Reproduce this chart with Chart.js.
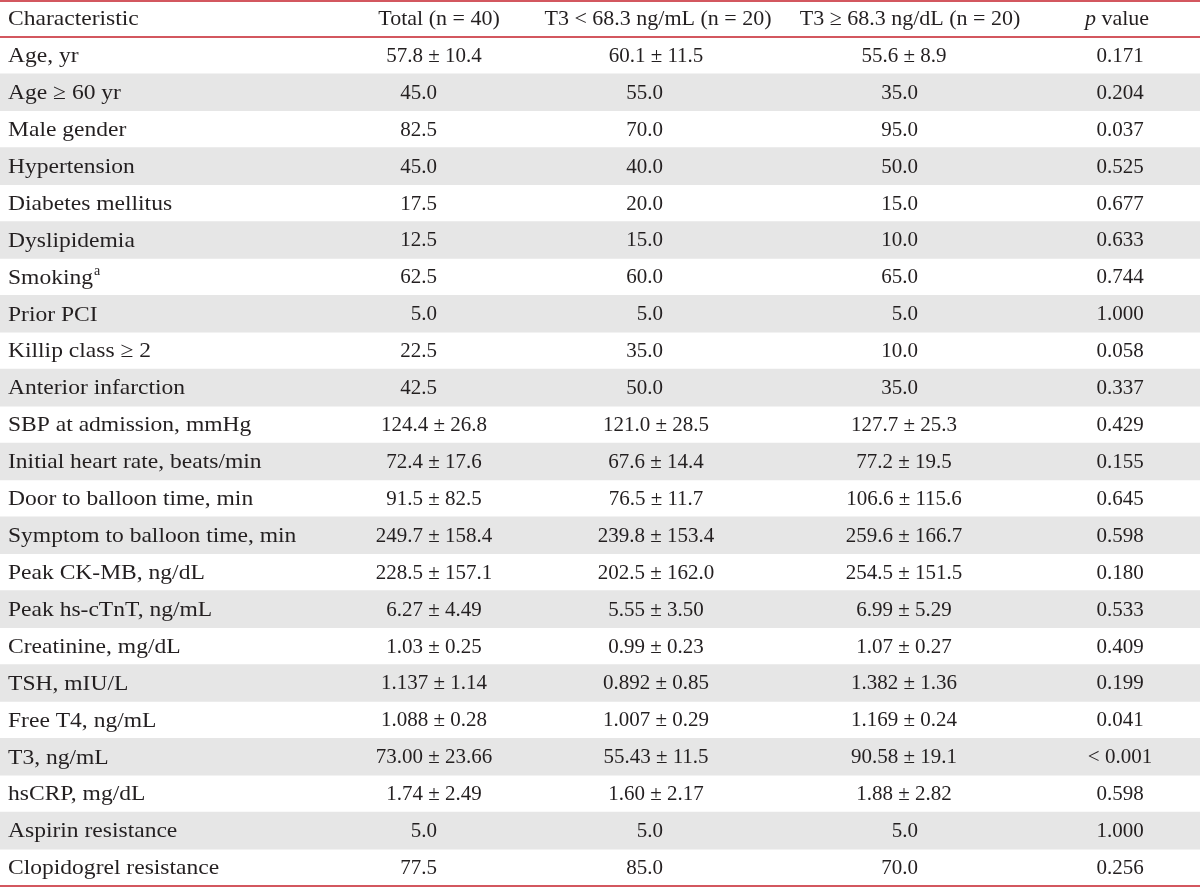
<!DOCTYPE html>
<html>
<head>
<meta charset="utf-8">
<script src="https://cdn.jsdelivr.net/npm/chart.js@4/dist/chart.umd.min.js"></script>
<style>
  html, body { margin: 0; padding: 0; background: #fff; }
  #wrap { width: 1200px; height: 888px; }
</style>
</head>
<body>
<div id="wrap"><canvas id="tbl" width="1200" height="888"></canvas></div>
<script>
// table contents
const headers = ['Characteristic', 'Total (n = 40)', 'T3 < 68.3 ng/mL (n = 20)', 'T3 \u2265 68.3 ng/dL (n = 20)', 'value'];

const characteristics = [
    'Age, yr', 'Age \u2265 60 yr', 'Male gender', 'Hypertension', 'Diabetes mellitus',
    'Dyslipidemia', 'Smoking', 'Prior PCI', 'Killip class \u2265 2', 'Anterior infarction',
    'SBP at admission, mmHg', 'Initial heart rate, beats/min', 'Door to balloon time, min',
    'Symptom to balloon time, min', 'Peak CK-MB, ng/dL', 'Peak hs-cTnT, ng/mL',
    'Creatinine, mg/dL', 'TSH, mIU/L', 'Free T4, ng/mL', 'T3, ng/mL', 'hsCRP, mg/dL',
    'Aspirin resistance', 'Clopidogrel resistance'
];

const totalVals = [
    '57.8 \u00b1 10.4', '45.0', '82.5', '45.0', '17.5', '12.5', '62.5', '5.0', '22.5', '42.5',
    '124.4 \u00b1 26.8', '72.4 \u00b1 17.6', '91.5 \u00b1 82.5', '249.7 \u00b1 158.4',
    '228.5 \u00b1 157.1', '6.27 \u00b1 4.49', '1.03 \u00b1 0.25', '1.137 \u00b1 1.14',
    '1.088 \u00b1 0.28', '73.00 \u00b1 23.66', '1.74 \u00b1 2.49', '5.0', '77.5'
];

const lowT3Vals = [
    '60.1 \u00b1 11.5', '55.0', '70.0', '40.0', '20.0', '15.0', '60.0', '5.0', '35.0', '50.0',
    '121.0 \u00b1 28.5', '67.6 \u00b1 14.4', '76.5 \u00b1 11.7', '239.8 \u00b1 153.4',
    '202.5 \u00b1 162.0', '5.55 \u00b1 3.50', '0.99 \u00b1 0.23', '0.892 \u00b1 0.85',
    '1.007 \u00b1 0.29', '55.43 \u00b1 11.5', '1.60 \u00b1 2.17', '5.0', '85.0'
];

const highT3Vals = [
    '55.6 \u00b1 8.9', '35.0', '95.0', '50.0', '15.0', '10.0', '65.0', '5.0', '10.0', '35.0',
    '127.7 \u00b1 25.3', '77.2 \u00b1 19.5', '106.6 \u00b1 115.6', '259.6 \u00b1 166.7',
    '254.5 \u00b1 151.5', '6.99 \u00b1 5.29', '1.07 \u00b1 0.27', '1.382 \u00b1 1.36',
    '1.169 \u00b1 0.24', '90.58 \u00b1 19.1', '1.88 \u00b1 2.82', '5.0', '70.0'
];

const pVals = [
    '0.171', '0.204', '0.037', '0.525', '0.677', '0.633', '0.744', '1.000', '0.058', '0.337',
    '0.429', '0.155', '0.645', '0.598', '0.180', '0.533', '0.409', '0.199', '0.041',
    '< 0.001', '0.598', '1.000', '0.256'
];

const footnoteRow = 6; // Smoking has superscript a

// layout (x positions in scale units == pixels)
const headCenter = [8, 439, 658, 910, 1117];
const colCenter = [8, 434, 656, 904, 1120];
const plainRight = [0, 437, 663, 918, 0];
const FONT = '"Liberation Serif", "DejaVu Serif", serif';
const RED = '#c51f2a';
const TEXT = '#231f20';
const STRETCH = 1.07; // label font runs a bit wider than Liberation Serif

const rowLabels = ['header'].concat(characteristics);
const stripes = rowLabels.map((r, i) => (i > 0 && i % 2 === 0) ? [0, 1200] : null);

function wideText(ctx, txt, x, y) {
    ctx.save();
    ctx.translate(x, y);
    ctx.scale(STRETCH, 1);
    ctx.textAlign = 'left';
    ctx.fillText(txt, 0, 0);
    const w = ctx.measureText(txt).width * STRETCH;
    ctx.restore();
    return w;
}

const tablePlugin = {
    id: 'tableText',
    afterDatasetsDraw(chart) {
        const ctx = chart.ctx;
        const x = chart.scales.x;
        const y = chart.scales.y;
        const area = chart.chartArea;
        ctx.save();
        ctx.fillStyle = TEXT;
        ctx.textBaseline = 'middle';

        // header
        const hy = y.getPixelForValue(0) + 1;
        ctx.font = '22px ' + FONT;
        wideText(ctx, headers[0], x.getPixelForValue(headCenter[0]), hy);
        ctx.textAlign = 'center';
        for (let c = 1; c <= 3; c++) {
            ctx.fillText(headers[c], x.getPixelForValue(headCenter[c]), hy);
        }
        // "p value" with italic p
        ctx.font = 'italic 22px ' + FONT;
        const pw = ctx.measureText('p ').width;
        ctx.font = '22px ' + FONT;
        const vw = ctx.measureText(headers[4]).width;
        const px = x.getPixelForValue(headCenter[4]) - (pw + vw) / 2;
        ctx.textAlign = 'left';
        ctx.font = 'italic 22px ' + FONT;
        ctx.fillText('p ', px, hy);
        ctx.font = '22px ' + FONT;
        ctx.fillText(headers[4], px + pw, hy);

        const cols = [totalVals, lowT3Vals, highT3Vals];
        characteristics.forEach((name, i) => {
            const cy = y.getPixelForValue(i + 1) + 1;
            ctx.font = '22px ' + FONT;
            const lx = x.getPixelForValue(colCenter[0]);
            const w = wideText(ctx, name, lx, cy);
            if (i === footnoteRow) {
                ctx.font = '14px ' + FONT;
                ctx.textAlign = 'left';
                ctx.fillText('a', lx + w + 1, cy - 7);
            }
            ctx.font = '21px ' + FONT;
            cols.forEach((arr, c) => {
                const v = arr[i];
                if (v.indexOf('\u00b1') >= 0) {
                    ctx.textAlign = 'center';
                    ctx.fillText(v, x.getPixelForValue(colCenter[c + 1]), cy);
                } else {
                    ctx.textAlign = 'right';
                    ctx.fillText(v, x.getPixelForValue(plainRight[c + 1]), cy);
                }
            });
            ctx.textAlign = 'center';
            ctx.fillText(pVals[i], x.getPixelForValue(colCenter[4]), cy);
        });

        // red rules
        ctx.strokeStyle = RED;
        ctx.lineWidth = 1.5;
        const half = (y.getPixelForValue(1) - y.getPixelForValue(0)) / 2;
        const lines = [area.top + 1, y.getPixelForValue(0) + half, y.getPixelForValue(characteristics.length) + half];
        lines.forEach(ly => {
            ctx.beginPath();
            ctx.moveTo(area.left, ly);
            ctx.lineTo(area.right, ly);
            ctx.stroke();
        });
        ctx.restore();
    }
};

new Chart(document.getElementById('tbl'), {
    type: 'bar',
    data: {
        labels: rowLabels,
        datasets: [{
            label: 'stripes',
            data: stripes,
            backgroundColor: '#e6e6e6',
            borderWidth: 0,
            barPercentage: 1,
            categoryPercentage: 1
        }]
    },
    options: {
        indexAxis: 'y',
        responsive: false,
        animation: false,
        layout: { padding: { top: 0, bottom: 2, left: 0, right: 0 } },
        plugins: { legend: { display: false }, tooltip: { enabled: false } },
        scales: {
            x: { type: 'linear', min: 0, max: 1200, display: false },
            y: { type: 'category', display: false, offset: true, grid: { display: false } }
        }
    },
    plugins: [tablePlugin]
});
</script>
</body>
</html>
